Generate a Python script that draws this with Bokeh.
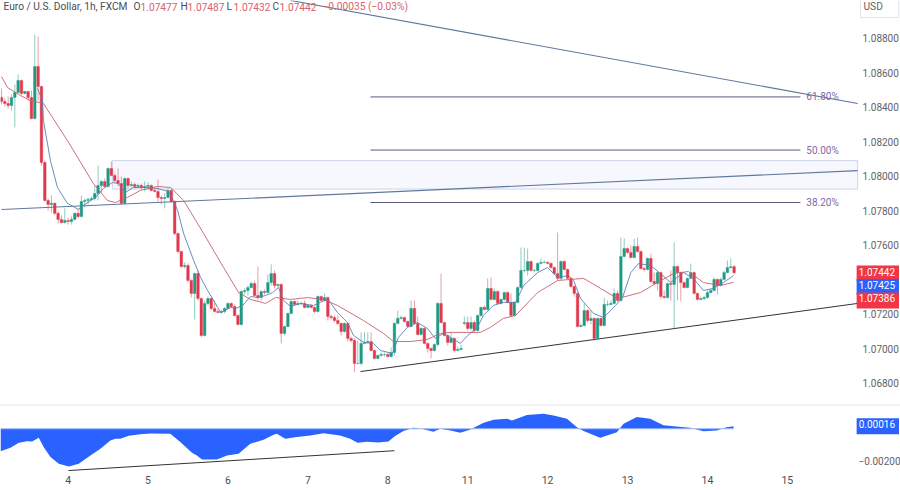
from bokeh.plotting import figure
from bokeh.layouts import column
from bokeh.models import Range1d, FixedTicker, PrintfTickFormatter, Label, Div, ColumnDataSource
from bokeh.core.properties import value
from bokeh.embed import file_html
from bokeh.resources import INLINE

closes = [1.08434,1.08423,1.08411,1.08458,1.08487,1.08556,1.08481,1.08492,1.08458,1.08336,1.08637,1.08521,1.08081,1.07861,1.07838,1.07844,1.07786,1.07751,1.07733,1.07745,
1.07739,1.07751,1.07786,1.07768,1.07855,1.07861,1.07867,1.07872,1.07901,1.07948,1.07971,1.07942,1.08046,1.08005,1.07977,1.07959,1.07844,1.07988,1.07948,1.07953,
1.07942,1.07948,1.07936,1.07942,1.07948,1.07919,1.07913,1.07878,1.07872,1.07878,1.07919,1.07855,1.07669,1.07565,1.07478,1.07484,1.07397,1.07322,1.07437,1.07292,
1.07078,1.07264,1.07292,1.07235,1.07217,1.07211,1.07217,1.07235,1.07264,1.07246,1.07194,1.07142,1.07333,1.07339,1.07356,1.07379,1.07310,1.07298,1.07333,1.07327,
1.07385,1.07437,1.07368,1.07374,1.07090,1.07130,1.07206,1.07275,1.07258,1.07264,1.07264,1.07241,1.07252,1.07241,1.07217,1.07304,1.07281,1.07298,1.07188,1.07182,
1.07165,1.07148,1.07101,1.07148,1.07061,1.07049,1.06916,1.06916,1.07032,1.07038,1.07043,1.06991,1.06945,1.06962,1.06968,1.06968,1.06956,1.06979,1.07148,1.07177,
1.07182,1.07159,1.07130,1.07235,1.07148,1.07084,1.07119,1.07032,1.07003,1.06991,1.07026,1.07264,1.07153,1.07078,1.07038,1.07061,1.06991,1.06997,1.07003,1.07153,
1.07119,1.07153,1.07107,1.07194,1.07241,1.07229,1.07351,1.07287,1.07333,1.07264,1.07287,1.07327,1.07270,1.07194,1.07270,1.07356,1.07455,1.07455,1.07507,1.07455,
1.07455,1.07496,1.07502,1.07502,1.07496,1.07472,1.07437,1.07409,1.07507,1.07461,1.07409,1.07362,1.07322,1.07130,1.07136,1.07223,1.07165,1.07177,1.07061,1.07177,
1.07136,1.07258,1.07258,1.07264,1.07322,1.07281,1.07536,1.07582,1.07559,1.07530,1.07594,1.07565,1.07466,1.07461,1.07525,1.07391,1.07379,1.07443,1.07304,1.07298,
1.07379,1.07374,1.07478,1.07443,1.07385,1.07356,1.07409,1.07443,1.07322,1.07287,1.07292,1.07298,1.07327,1.07339,1.07403,1.07368,1.07403,1.07443,1.07472,1.07477,1.07442]

highs = [1.08510,1.08452,1.08464,1.08475,1.08533,1.08591,1.08562,1.08498,1.08498,1.08498,1.08823,1.08811,1.08527,1.08092,1.07872,1.07890,1.07849,1.07797,1.07774,1.07815,
1.07762,1.07768,1.07791,1.07815,1.07890,1.07872,1.07878,1.07884,1.07948,1.08063,1.07977,1.07988,1.08052,1.08087,1.08017,1.08046,1.08000,1.07994,1.07994,1.07971,
1.07965,1.07959,1.07959,1.07971,1.07965,1.07953,1.07930,1.07982,1.07890,1.07901,1.07930,1.07930,1.07861,1.07675,1.07571,1.07502,1.07496,1.07403,1.07443,1.07455,
1.07298,1.07281,1.07304,1.07298,1.07281,1.07229,1.07229,1.07241,1.07270,1.07270,1.07258,1.07200,1.07339,1.07351,1.07368,1.07391,1.07397,1.07478,1.07339,1.07345,
1.07432,1.07490,1.07455,1.07379,1.07379,1.07136,1.07211,1.07281,1.07281,1.07281,1.07275,1.07281,1.07258,1.07258,1.07246,1.07310,1.07310,1.07322,1.07304,1.07200,
1.07194,1.07194,1.07153,1.07153,1.07153,1.07067,1.07061,1.07049,1.07096,1.07096,1.07096,1.07096,1.06997,1.06968,1.06979,1.06979,1.06979,1.07008,1.07153,1.07223,
1.07194,1.07188,1.07165,1.07281,1.07281,1.07188,1.07125,1.07125,1.07038,1.07008,1.07032,1.07270,1.07437,1.07159,1.07084,1.07101,1.07067,1.07014,1.07026,1.07188,
1.07188,1.07188,1.07165,1.07200,1.07246,1.07252,1.07409,1.07414,1.07351,1.07339,1.07292,1.07333,1.07333,1.07322,1.07275,1.07362,1.07588,1.07588,1.07582,1.07513,
1.07466,1.07502,1.07525,1.07513,1.07507,1.07502,1.07478,1.07675,1.07513,1.07513,1.07466,1.07414,1.07368,1.07327,1.07148,1.07264,1.07229,1.07223,1.07182,1.07182,
1.07182,1.07298,1.07281,1.07281,1.07351,1.07339,1.07646,1.07640,1.07588,1.07600,1.07640,1.07646,1.07571,1.07478,1.07530,1.07553,1.07443,1.07449,1.07449,1.07339,
1.07385,1.07455,1.07617,1.07484,1.07449,1.07391,1.07414,1.07495,1.07449,1.07327,1.07304,1.07310,1.07339,1.07351,1.07414,1.07409,1.07414,1.07455,1.07513,1.07525,1.07487]

lows = [1.08417,1.08405,1.08394,1.08382,1.08284,1.08481,1.08469,1.08475,1.08440,1.08330,1.08330,1.08440,1.08063,1.07855,1.07803,1.07791,1.07774,1.07727,1.07727,1.07727,
1.07721,1.07721,1.07745,1.07756,1.07762,1.07820,1.07838,1.07861,1.07861,1.07861,1.07907,1.07936,1.07936,1.08000,1.07965,1.07942,1.07838,1.07838,1.07930,1.07936,
1.07930,1.07936,1.07924,1.07913,1.07924,1.07913,1.07907,1.07855,1.07838,1.07815,1.07872,1.07849,1.07658,1.07553,1.07472,1.07466,1.07385,1.07298,1.07171,1.07281,
1.07067,1.07072,1.07252,1.07223,1.07211,1.07206,1.07206,1.07206,1.07229,1.07241,1.07188,1.07136,1.07136,1.07316,1.07310,1.07351,1.07304,1.07281,1.07281,1.07316,
1.07322,1.07368,1.07351,1.07356,1.07032,1.07078,1.07125,1.07200,1.07252,1.07252,1.07252,1.07235,1.07235,1.07235,1.07206,1.07211,1.07275,1.07275,1.07165,1.07171,
1.07153,1.07136,1.07078,1.07096,1.07043,1.07038,1.06864,1.06910,1.06904,1.07026,1.07032,1.06985,1.06939,1.06939,1.06956,1.06956,1.06950,1.06950,1.06962,1.07142,
1.07171,1.07153,1.07125,1.07125,1.07142,1.07078,1.07078,1.07026,1.06979,1.06945,1.06985,1.07014,1.07148,1.07072,1.07020,1.07032,1.06979,1.06985,1.06991,1.07136,
1.07107,1.07107,1.07096,1.07101,1.07188,1.07223,1.07223,1.07281,1.07281,1.07258,1.07258,1.07281,1.07264,1.07188,1.07188,1.07264,1.07351,1.07443,1.07426,1.07449,
1.07443,1.07449,1.07490,1.07496,1.07490,1.07466,1.07432,1.07397,1.07397,1.07455,1.07403,1.07356,1.07304,1.07125,1.07125,1.07130,1.07153,1.07142,1.07049,1.07055,
1.07130,1.07130,1.07246,1.07252,1.07258,1.07270,1.07275,1.07530,1.07553,1.07525,1.07525,1.07559,1.07461,1.07449,1.07455,1.07385,1.07374,1.07339,1.07292,1.07292,
1.07292,1.07281,1.07119,1.07281,1.07275,1.07351,1.07351,1.07403,1.07316,1.07281,1.07281,1.07281,1.07292,1.07322,1.07333,1.07316,1.07362,1.07397,1.07437,1.07466,1.07432]

first_open = 1.08458
weekend_gap_index = 139
weekend_gap_open = 1.07148

fast_bar = [10.8,12.3,12.6,14.7,16.8,19.8,23.1,24.6,28.2,30.6,33.3,35.1,37.2,39.6,43.8,46.8,50.1,51.6,52.9,54.7,57.7,59.8,61.9,64.9,65.8,68.8,70.3,72.4,74.8,76.9,79.3,81.4,83.2,84.7,86.8,89.8,93.7,95.8,97.9,100.9,103.9,105.7,108.7,111.7,113.8,117.4,119.2,121.9,124.9,127.9,130.3,132.7,137.8,140,142.9,144.7,147.7,150.7,154.4,156.8,161,164,167,170.3,171.8,173.9,177.8,180.8,184.4,186.5,189,191.3,194.9,197.9,200.9,204.8,207.8,210.8,213.8,216.8,219.8]
fast_ma = [1.08510,1.08440,1.08324,1.08092,1.07936,1.07844,1.07809,1.07832,1.07878,1.07930,1.07965,1.07959,1.07907,1.07936,1.07936,1.07930,1.07913,1.07861,1.07803,1.07669,1.07513,1.07414,1.07339,1.07241,1.07211,1.07241,1.07235,1.07252,1.07304,1.07298,1.07310,1.07327,1.07356,1.07281,1.07246,1.07264,1.07252,1.07270,1.07292,1.07211,1.07153,1.07078,1.07038,1.07032,1.06991,1.06974,1.07067,1.07125,1.07153,1.07119,1.07061,1.07090,1.07032,1.07078,1.07125,1.07194,1.07252,1.07270,1.07270,1.07368,1.07443,1.07472,1.07414,1.07426,1.07397,1.07292,1.07206,1.07182,1.07252,1.07298,1.07443,1.07495,1.07484,1.07437,1.07385,1.07443,1.07409,1.07339,1.07351,1.07385,1.07425]

slow_bar = [0,1.8,5.7,8.7,12.6,19.8,27.6,31.8,34.2,37.8,41.7,46.8,50.8,54.7,60.7,66.7,71.2,74.8,79.3,82.3,86.8,91.9,96.7,100.9,108.7,114.7,117.7,122.8,127.9,131.8,134.8,143.8,146.8,150.7,154.4,161,167,174.8,179.9,185,191.9,197,201.8,206.3,210.8,215.9,219.8]
slow_ma = [1.08579,1.08516,1.08469,1.08440,1.08423,1.08208,1.07959,1.07861,1.07849,1.07878,1.07919,1.07942,1.07936,1.07861,1.07669,1.07472,1.07327,1.07287,1.07264,1.07298,1.07287,1.07298,1.07287,1.07252,1.07165,1.07090,1.07043,1.07043,1.07055,1.07090,1.07096,1.07096,1.07125,1.07177,1.07194,1.07327,1.07397,1.07409,1.07351,1.07292,1.07327,1.07385,1.07437,1.07449,1.07385,1.07368,1.07386]

osc_bar = [-0.3,2.7,5.2,7.7,9.2,11.2,12.7,14.7,17.2,20.2,23.2,26.7,29.7,32.7,34.2,35.7,38.2,41.7,44.7,50.7,53.7,57.2,58.7,60.2,64.7,67.7,71.2,74.7,78.7,81.7,82.7,85.2,88.7,92.7,96.7,101.7,104.7,106.9,109.7,113.2,116.2,118.2,120.7,123.7,126.2,129.7,131.8,134.8,137.8,140.8,144.8,147.8,151.8,153.3,157.8,162.8,165.8,169.8,172.8,174.8,179.8,184.8,186.8,190.8,194.8,198.8,201.8,206.8,210.8,214.8,217.8,219.8]
osc_val = [-0.00139,-0.00117,-0.00086,-0.00076,-0.00078,-0.00055,-0.00113,-0.00174,-0.00215,-0.00232,-0.00215,-0.00164,-0.00123,-0.00072,-0.00062,-0.00062,-0.00043,-0.00033,-0.00029,-0.00031,-0.00082,-0.00148,-0.00164,-0.00189,-0.00189,-0.00164,-0.00154,-0.00092,-0.00068,-0.00037,-0.00031,-0.00062,-0.00051,-0.00041,-0.00027,-0.00041,-0.00062,-0.00086,-0.00080,-0.00084,-0.00078,-0.00045,-0.00014,0.00006,0.0,-0.00018,0.0,-0.00010,-0.00025,-0.00004,0.00037,0.00055,0.00062,0.00051,0.00084,0.00092,0.00082,0.00062,0.00010,-0.00014,-0.00055,-0.00021,0.00031,0.00072,0.00062,0.00021,0.00016,0.00006,-0.00016,-0.00010,0.00010,0.00016]

price_ticks = [1.068,1.070,1.072,1.076,1.078,1.080,1.082,1.084,1.086,1.088]
osc_ticks = [-0.002]
osc_tick_labels = ["\u22120.00200"]
day_bars = [20,44,68,92,116,140,164,188,212,236]
day_labels = ["4","5","6","7","8","11","12","13","14","15"]

fib_levels = [1.08461,1.08153,1.07849]
fib_labels = ["61.80%","50.00%","38.20%"]
fib_bars = (110.8,239.9)
zone_bars = (33.3,257.1)
zone_prices = (1.07927,1.08092)
resist_bars = [86.8,257.1]
resist_prices = [1.0902,1.08423]
mid_bars = [0,257.1]
mid_prices = [1.07808,1.08034]
support_bars = [107.8,257.1]
support_prices = [1.06869,1.07264]
div_bars = [20.1,118.0]
div_vals = [-0.00257,-0.00135]

header_title = "Euro / U.S. Dollar, 1h, FXCM"
ohlc_names = ["O","H","L","C"]
ohlc_values = ["1.07477","1.07487","1.07432","1.07442"]
change_text = "\u22120.00035 (\u22120.03%)"
# tag text, fill, and the axis height the stacked tag sits at once spread apart
price_tags = [("1.07442","#f23645",1.07437),("1.07425","#2962ff",1.07359),("1.07386","#f23645",1.07281)]
osc_tag = ("0.00016","#2962ff",0.00016)

UP, DOWN = "#1f9a85", "#e0394c"
FONT = "Roboto"
XR = (-0.3, 269.97)
TAG_BAR = 256.8

opens = [first_open] + closes[:-1]
opens[weekend_gap_index] = weekend_gap_open
idx = list(range(len(closes)))
colors = [UP if c >= o else DOWN for o, c in zip(opens, closes)]
src = ColumnDataSource(dict(x=idx, o=opens, c=closes, h=highs, l=lows, col=colors))


def style(fig, standoff):
    fig.grid.visible = False
    fig.outline_line_color = None
    fig.min_border_left = 0
    fig.min_border_top = 0
    fig.min_border_bottom = 0
    fig.min_border_right = 0
    fig.background_fill_color = "white"
    fig.border_fill_color = "white"
    ax = fig.yaxis[0]
    ax.axis_line_color = None
    ax.major_tick_line_color = None
    ax.minor_tick_line_color = None
    ax.major_tick_out = 0
    ax.major_tick_in = 0
    ax.major_label_standoff = standoff
    ax.major_label_text_color = "#5f626d"
    ax.major_label_text_font = FONT
    ax.major_label_text_font_size = "10px"


def tag(fig, txt, col, val):
    fig.add_layout(Label(x=TAG_BAR, y=val, text=txt, text_color="white", text_font=FONT,
                         text_font_size="10px", text_baseline="middle", text_align="left",
                         background_fill_color=col, padding=(2, 4, 2, 6), level="overlay"))


p1 = figure(width=900, height=404, frame_width=900, frame_height=404,
            x_range=Range1d(*XR), y_range=Range1d(1.06678, 1.0902),
            x_axis_location=None, y_axis_location="right",
            output_backend="svg", toolbar_location=None)
style(p1, -38)
p1.yaxis[0].ticker = FixedTicker(ticks=price_ticks)
p1.yaxis[0].formatter = PrintfTickFormatter(format="%.5f")

p1.quad(left=zone_bars[0], right=zone_bars[1], bottom=zone_prices[0], top=zone_prices[1],
        fill_color="#f6f8fe", line_color="#cdd4ea", line_width=1)
for lv in fib_levels:
    p1.line(list(fib_bars), [lv, lv], line_color="#5a5a78", line_width=1)
p1.text(x=[fib_bars[1] + 1.8] * 3, y=fib_levels, text=fib_labels, text_color="#8468a8",
        text_font=value(FONT), text_font_size="10px", text_baseline="middle")
p1.line(resist_bars, resist_prices, line_color="#5d789c", line_width=1.1)
p1.line(mid_bars, mid_prices, line_color="#5d789c", line_width=1.1)
p1.line(support_bars, support_prices, line_color="#333333", line_width=1)

p1.segment(x0="x", x1="x", y0="l", y1="h", color="col", line_width=1, line_alpha=0.5, source=src)
p1.vbar(x="x", width=0.78, bottom="o", top="c", fill_color="col", line_color="col", line_width=0.4, source=src)
p1.line(slow_bar, slow_ma, line_color="#c9616b", line_width=1, line_alpha=0.9)
p1.line(fast_bar, fast_ma, line_color="#5b7fb8", line_width=1, line_alpha=0.9)

for txt, col, val in price_tags:
    tag(p1, txt, col, val)

title_y = 398
HF = "10.2px"
p1.add_layout(Label(x=3, y=title_y, x_units="screen", y_units="screen", text=header_title,
                    text_color="#4a4d57", text_font=FONT, text_font_size=HF, text_baseline="middle"))
for name, val, nx in zip(ohlc_names, ohlc_values, [133, 180, 226, 272]):
    p1.add_layout(Label(x=nx, y=title_y, x_units="screen", y_units="screen", text=name,
                        text_color="#4a4d57", text_font=FONT, text_font_size=HF, text_baseline="middle"))
    p1.add_layout(Label(x=nx + 7, y=title_y, x_units="screen", y_units="screen", text=val,
                        text_color="#d8616e", text_font=FONT, text_font_size=HF, text_baseline="middle"))
p1.add_layout(Label(x=322, y=title_y, x_units="screen", y_units="screen", text=change_text,
                    text_color="#d8616e", text_font=FONT, text_font_size=HF, text_baseline="middle"))
p1.add_layout(Label(x=860, y=397, x_units="screen", y_units="screen", text="USD",
                    text_color="#5f626d", text_font=FONT, text_font_size=HF, text_baseline="middle",
                    background_fill_color="white", border_line_color="#e0e3eb", padding=(3, 16, 3, 6)))

sep = Div(width=900, height=2, margin=(0, 0, 0, 0), styles={"background": "#f0f3fa"})

p2 = figure(width=900, height=84, frame_width=900, frame_height=66,
            x_range=Range1d(*XR), y_range=Range1d(-0.00269, 0.00137),
            y_axis_location="right", output_backend="svg", toolbar_location=None)
style(p2, -42)
p2.yaxis[0].ticker = FixedTicker(ticks=osc_ticks)
p2.yaxis[0].major_label_overrides = dict(zip(osc_ticks, osc_tick_labels))
xa = p2.xaxis[0]
xa.ticker = FixedTicker(ticks=day_bars)
xa.major_label_overrides = dict(zip(day_bars, day_labels))
xa.axis_line_color = None
xa.major_tick_line_color = None
xa.minor_tick_line_color = None
xa.major_tick_out = 0
xa.major_tick_in = 0
xa.major_label_standoff = 3
xa.major_label_text_color = "#4a4d57"
xa.major_label_text_font = FONT
xa.major_label_text_font_size = "10.5px"

p2.varea(x=osc_bar, y1=[0.0] * len(osc_bar), y2=osc_val, fill_color="#2962ff")
p2.line([osc_bar[0], osc_bar[-1]], [0.0, 0.0], line_color="#9db8f5", line_width=1)
p2.line(div_bars, div_vals, line_color="#333333", line_width=1)
tag(p2, osc_tag[0], osc_tag[1], osc_tag[2])

page = column(p1, sep, p2, spacing=0)
open("out.html", "w").write(file_html(page, INLINE))
